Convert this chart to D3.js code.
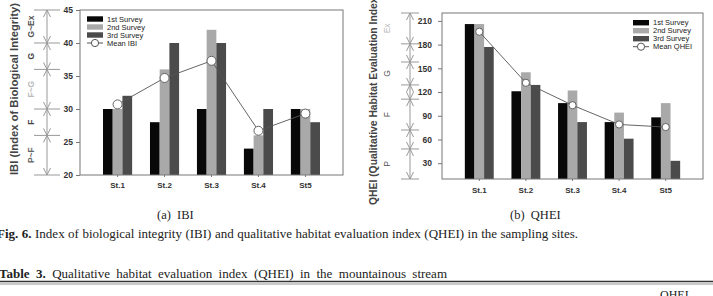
<!DOCTYPE html>
<html>

<head>
    <meta charset="utf-8">
    <title>IBI and QHEI</title>
    <style>
        body {
            margin: 0;
            background: #fff;
        }

        .frame {
            fill: none;
            stroke: #777;
            stroke-width: 1px;
        }

        .axis text {
            font-family: Arial, "Liberation Sans", sans-serif;
            font-weight: bold;
            fill: #333;
        }

        .axis path,
        .axis line {
            stroke: #777;
        }

        .legend text {
            font-family: Arial, "Liberation Sans", sans-serif;
            font-size: 7.5px;
            fill: #222;
        }

        .caption {
            font-family: "Liberation Serif", "Times New Roman", serif;
            fill: #222;
        }
    </style>

    <script src="https://d3js.org/d3.v7.min.js"></script>

</head>

<body>
    <script>
        var w = 713;
        var h = 296;

        // data
        var stations = ["St.1", "St.2", "St.3", "St.4", "St5"];

        var ibi1 = [30, 28, 30, 24, 30];
        var ibi2 = [30, 36, 42, 26, 30];
        var ibi3 = [32, 40, 40, 30, 28];
        var ibiMean = [30.7, 34.7, 37.3, 26.7, 29.3];
        var ibiTicks = [20, 25, 30, 35, 40, 45];
        var ibiGradeBreaks = [45, 40, 36, 30, 26, 20];
        var ibiGradeLabels = ["G~Ex", "G", "F~G", "F", "P~F"];

        var qhei1 = [206, 121, 106, 82, 88];
        var qhei2 = [206, 145, 122, 94, 106];
        var qhei3 = [177, 129, 82, 61, 33];
        var qheiMean = [196.3, 131.7, 103.3, 79, 75.7];
        var qheiTicks = [30, 60, 90, 120, 150, 180, 210];
        var qheiGradeBreaks = [220, 181, 158, 129, 111, 72, 48, 10];
        var qheiGradeLabels = ["Ex", "", "G", "", "F", "", "P"];

        var surveyNames = ["1st Survey", "2nd Survey", "3rd Survey"];
        var barColors = ["#080808", "#a9a9a9", "#4b4b4b"];

        var svg = d3.select("body").append("svg")
            .attr("width", w)
            .attr("height", h);

        function drawChart(opt) {
            var x = d3.scaleBand()
                .domain(stations)
                .range([opt.left, opt.right])
                .paddingInner(0.38)
                .paddingOuter(0.49);

            var x1 = d3.scaleBand()
                .domain([0, 1, 2])
                .range([0, x.bandwidth()]);

            var y = d3.scaleLinear()
                .domain(opt.domain)
                .range([opt.bottom, opt.top]);

            var g = svg.append("g");

            // bars
            opt.series.forEach(function (vals, i) {
                g.selectAll(null)
                    .data(vals)
                    .enter()
                    .append("rect")
                    .attr("x", function (d, j) { return x(stations[j]) + x1(i); })
                    .attr("y", function (d) { return y(d); })
                    .attr("width", x1.bandwidth())
                    .attr("height", function (d) { return opt.bottom - y(d); })
                    .style("fill", barColors[i]);
            });

            // frame
            g.append("rect")
                .attr("class", "frame")
                .attr("x", opt.left)
                .attr("y", opt.top)
                .attr("width", opt.right - opt.left)
                .attr("height", opt.bottom - opt.top);

            // axes
            g.append("g")
                .attr("class", "axis")
                .attr("transform", "translate(" + opt.left + ",0)")
                .call(d3.axisLeft(y).tickValues(opt.ticks).tickSize(opt.tickSize).tickPadding(opt.tickPad).tickSizeOuter(0))
                .call(function (a) { a.select(".domain").remove(); })
                .selectAll("text").style("font-size", "8.5px");

            g.append("g")
                .attr("class", "axis")
                .attr("transform", "translate(0," + opt.bottom + ")")
                .call(d3.axisBottom(x).tickSize(2).tickPadding(opt.xPad).tickSizeOuter(0))
                .call(function (a) { a.select(".domain").remove(); })
                .selectAll("text").style("font-size", "8px");

            // mean line
            var line = d3.line()
                .x(function (d, j) { return x(stations[j]) + x.bandwidth() / 2; })
                .y(function (d) { return y(d); });

            g.append("path")
                .datum(opt.mean)
                .attr("d", line)
                .style("fill", "none")
                .style("stroke", "#555")
                .style("stroke-width", 0.9);

            g.selectAll(null)
                .data(opt.mean)
                .enter()
                .append("circle")
                .attr("cx", function (d, j) { return x(stations[j]) + x.bandwidth() / 2; })
                .attr("cy", function (d) { return y(d); })
                .attr("r", opt.r)
                .style("fill", "#fff")
                .style("stroke", "#555")
                .style("stroke-width", 0.9);

            // legend
            var lg = g.append("g").attr("class", "legend");
            surveyNames.concat([opt.meanName]).forEach(function (name, i) {
                var cy = opt.legY + i * 8;
                if (i < 3) {
                    lg.append("rect")
                        .attr("x", opt.legX)
                        .attr("y", cy - 2.7)
                        .attr("width", 16)
                        .attr("height", 5.4)
                        .style("fill", barColors[i]);
                } else {
                    lg.append("line")
                        .attr("x1", opt.legX).attr("x2", opt.legX + 16)
                        .attr("y1", cy).attr("y2", cy)
                        .style("stroke", "#555");
                    lg.append("circle")
                        .attr("cx", opt.legX + 8).attr("cy", cy).attr("r", 3.6)
                        .style("fill", "#fff").style("stroke", "#555");
                }
                lg.append("text")
                    .attr("x", opt.legX + 20)
                    .attr("y", cy + 2.7)
                    .text(name);
            });

            // grade bracket
            var bx = opt.bracketX;
            var br = g.append("g").style("stroke", "#999").style("fill", "none");
            opt.breaks.forEach(function (b) {
                br.append("line")
                    .attr("x1", bx - opt.sepHalf).attr("x2", bx + opt.sepHalf)
                    .attr("y1", y(b)).attr("y2", y(b));
            });
            for (var k = 0; k < opt.breaks.length - 1; k++) {
                var y0 = y(opt.breaks[k]), y1 = y(opt.breaks[k + 1]);
                br.append("path")
                    .attr("d", "M" + bx + "," + y0 + "V" + y1 +
                        "M" + (bx - 3.5) + "," + (y0 + 7) + "L" + bx + "," + y0 + "L" + (bx + 3.5) + "," + (y0 + 7) +
                        "M" + (bx - 3.5) + "," + (y1 - 7) + "L" + bx + "," + y1 + "L" + (bx + 3.5) + "," + (y1 - 7));
                var lab = opt.gradeLabels[k];
                if (lab) {
                    var cy = (y0 + y1) / 2;
                    g.append("text")
                        .attr("transform", "translate(" + opt.labelX + "," + cy + ") rotate(-90)")
                        .attr("text-anchor", "middle")
                        .attr("dy", "0.35em")
                        .style("font-family", "Arial, 'Liberation Sans', sans-serif")
                        .style("font-size", "8.5px")
                        .style("font-weight", opt.labelWeight)
                        .style("fill", opt.labelColors[k])
                        .text(lab);
                }
            }

            // y title
            g.append("text")
                .attr("transform", "translate(" + opt.titleX + "," + opt.titleY + ") rotate(-90)")
                .attr("text-anchor", "start")
                .attr("dy", "0.35em")
                .attr("textLength", opt.titleLen)
                .attr("lengthAdjust", "spacingAndGlyphs")
                .style("font-family", "Arial, 'Liberation Sans', sans-serif")
                .style("font-size", "11.5px")
                .style("font-weight", "bold")
                .style("fill", "#444")
                .text(opt.title);
        }

        drawChart({
            left: 80, right: 343, top: 10, bottom: 175,
            domain: [20, 45], ticks: ibiTicks, tickSize: 4, tickPad: 3, xPad: 5,
            series: [ibi1, ibi2, ibi3], mean: ibiMean, r: 4.5,
            meanName: "Mean IBI", legX: 87, legY: 19,
            breaks: ibiGradeBreaks, gradeLabels: ibiGradeLabels,
            labelColors: ["#555", "#444", "#bbb", "#444", "#666"], labelWeight: "bold",
            bracketX: 47, sepHalf: 13, labelX: 31,
            title: "IBI (Index of Biological Integrity)", titleX: 14, titleY: 175, titleLen: 172
        });

        drawChart({
            left: 442, right: 703, top: 13, bottom: 179,
            domain: [10, 220], ticks: qheiTicks, tickSize: 4, tickPad: 6, xPad: 6,
            series: [qhei1, qhei2, qhei3], mean: qheiMean, r: 3.6,
            meanName: "Mean QHEI", legX: 633, legY: 22.7,
            breaks: qheiGradeBreaks, gradeLabels: qheiGradeLabels,
            labelColors: ["#bbb", "", "#555", "", "#555", "", "#555"], labelWeight: "normal",
            bracketX: 410, sepHalf: 9, labelX: 387,
            title: "QHEI (Qualitative Habitat Evaluation Index)", titleX: 373, titleY: 205, titleLen: 211
        });

        // captions, justified by widening the word gaps
        function justify(sel, width) {
            var node = sel.node();
            var natural = node.getComputedTextLength();
            var spaces = (node.textContent.match(/ /g) || []).length;
            sel.style("word-spacing", Math.max(0, (width - natural) / spaces) + "px");
        }

        svg.append("text").attr("class", "caption")
            .attr("x", 157).attr("y", 219)
            .style("font-size", "12.5px")
            .style("white-space", "pre")
            .text("(a)  IBI");

        svg.append("text").attr("class", "caption")
            .attr("x", 510).attr("y", 219)
            .style("font-size", "12.5px")
            .style("white-space", "pre")
            .text("(b)  QHEI");

        var fig = svg.append("text").attr("class", "caption")
            .attr("x", -3).attr("y", 238)
            .style("font-size", "13px");
        fig.append("tspan").style("font-weight", "bold").text("Fig. 6.");
        fig.append("tspan").text(" Index of biological integrity (IBI) and qualitative habitat evaluation index (QHEI) in the sampling sites.");
        justify(fig, 581);

        var tab = svg.append("text").attr("class", "caption")
            .attr("x", -1).attr("y", 278)
            .style("font-size", "13px");
        tab.append("tspan").style("font-weight", "bold").text("Table 3.");
        tab.append("tspan").text(" Qualitative habitat evaluation index (QHEI) in the mountainous stream");
        justify(tab, 448);

        svg.append("line")
            .attr("x1", 0).attr("x2", w).attr("y1", 281.5).attr("y2", 281.5)
            .style("stroke", "#333").style("stroke-width", 1.4);
        svg.append("line")
            .attr("x1", 0).attr("x2", w).attr("y1", 284).attr("y2", 284)
            .style("stroke", "#666").style("stroke-width", 0.7);

        svg.append("text").attr("class", "caption")
            .attr("x", 660).attr("y", 299)
            .style("font-size", "12px")
            .text("QHEI");
    </script>

</body>

</html>
